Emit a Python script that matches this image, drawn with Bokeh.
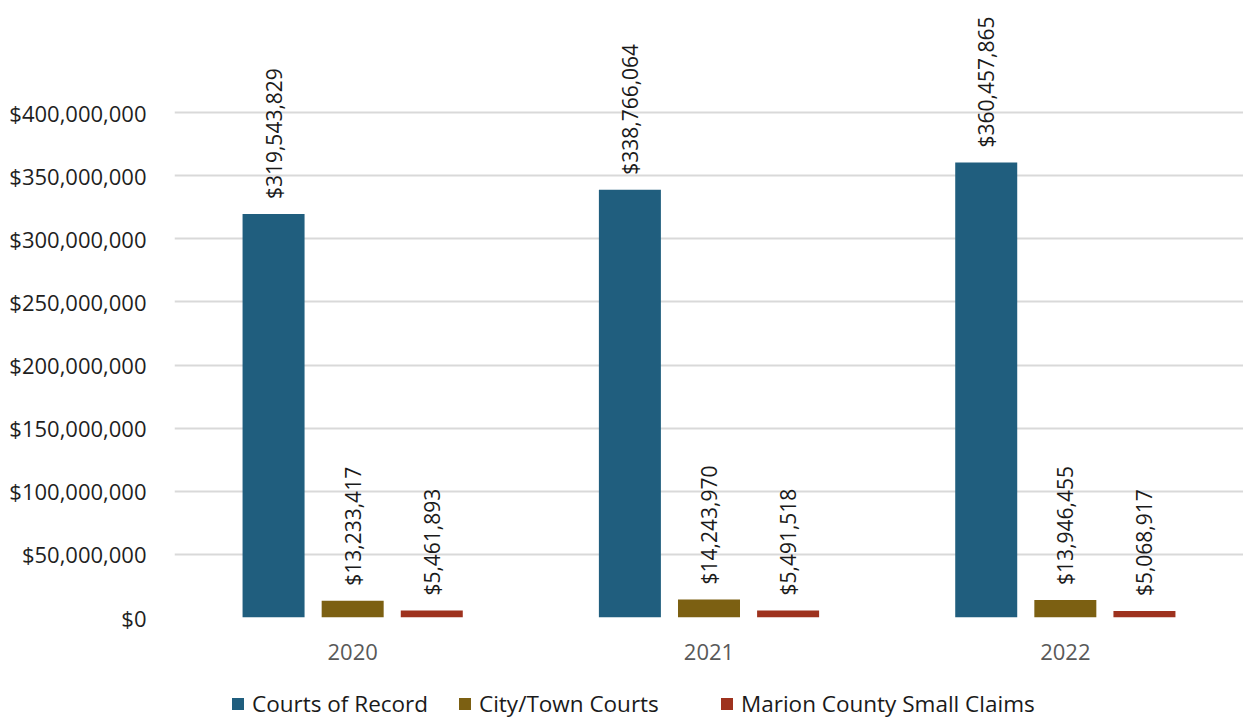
from bokeh.plotting import figure
from bokeh.layouts import column
from bokeh.models import ColumnDataSource, FixedTicker, NumeralTickFormatter, Legend, LegendItem
from bokeh.embed import file_html
from bokeh.resources import INLINE
from bokeh.core.properties import value

years = ["2020", "2021", "2022"]
series = ["Courts of Record", "City/Town Courts", "Marion County Small Claims"]
courts_of_record = [319543829, 338766064, 360457865]
city_town_courts = [13233417, 14243970, 13946455]
marion_small_claims = [5461893, 5491518, 5068917]
colors = ["#205E7E", "#7C6012", "#9E321E"]
y_ticks = [0, 50000000, 100000000, 150000000, 200000000, 250000000, 300000000, 350000000, 400000000]

FONT = "Open Sans"
W, H, HL = 1243, 675, 46

p = figure(width=W, height=H, output_backend="svg", toolbar_location=None,
           x_range=(0, 3), y_range=(0, 482400000),
           min_border_left=174, min_border_right=0, min_border_top=8, min_border_bottom=58)
p.outline_line_color = None
p.background_fill_color = "white"
p.border_fill_color = "white"

centers = [i + 0.5 for i in range(len(years))]
offsets = [-0.222, 0.0, 0.222]
all_vals = [courts_of_record, city_town_courts, marion_small_claims]

sources = []
for k, vals in enumerate(all_vals):
    xs = [c + offsets[k] for c in centers]
    labels = ["${:,}".format(v) for v in vals]
    src = ColumnDataSource(dict(x=xs, top=vals, label=labels))
    sources.append(src)
    p.vbar(x="x", top="top", width=0.174, bottom=0, source=src,
           fill_color=colors[k], line_color=None)
    p.text(x="x", y="top", text="label", source=src, angle=1.5708,
           text_align="left", text_baseline="middle", y_offset=-15,
           text_font=value(FONT), text_font_size="21px", text_color="#1a1a1a")

# axes
p.yaxis.ticker = FixedTicker(ticks=y_ticks)
p.yaxis.formatter = NumeralTickFormatter(format="$0,0")
p.yaxis.axis_line_color = None
p.yaxis.major_tick_line_color = None
p.yaxis.minor_tick_line_color = None
p.yaxis.major_label_standoff = 22
p.yaxis.major_label_text_font = FONT
p.yaxis.major_label_text_font_size = "22px"
p.yaxis.major_label_text_color = "#1f1f1f"

p.xaxis.ticker = FixedTicker(ticks=centers)
p.xaxis.major_label_overrides = {c: y for c, y in zip(centers, years)}
p.xaxis.axis_line_color = None
p.xaxis.major_tick_line_color = None
p.xaxis.minor_tick_line_color = None
p.xaxis.major_label_standoff = 20
p.xaxis.major_label_text_font = FONT
p.xaxis.major_label_text_font_size = "22px"
p.xaxis.major_label_text_color = "#595959"

p.xgrid.grid_line_color = None
p.ygrid.ticker = FixedTicker(ticks=y_ticks)
p.ygrid.grid_line_color = "#d9d9d9"
p.ygrid.grid_line_width = 2

# legend in its own strip below the chart (series renderers hidden; only the legend shows)
pl = figure(width=W, height=HL, output_backend="svg", toolbar_location=None,
            x_axis_type=None, y_axis_type=None, x_range=(100, 101), y_range=(-3e9, -2e9),
            min_border_left=0, min_border_right=0, min_border_top=0, min_border_bottom=0)
pl.outline_line_color = None
pl.xgrid.grid_line_color = None
pl.ygrid.grid_line_color = None
leg_x = [56, 283, 545]
for k in range(len(series)):
    r = pl.vbar(x="x", top="top", width=0, source=sources[k],
                fill_color=colors[k], line_color=None)
    r.visible = False
    lg = Legend(items=[LegendItem(label=series[k], renderers=[r])],
                orientation="horizontal", location=(leg_x[k], 2),
                glyph_width=15, glyph_height=15, label_standoff=7, spacing=0,
                label_text_font=FONT, label_text_font_size="22.5px", label_text_color="#1a1a1a",
                border_line_color=None, background_fill_alpha=0, padding=0, margin=0)
    pl.add_layout(lg)

open("out.html", "w").write(file_html(column(p, pl, spacing=0), INLINE))
